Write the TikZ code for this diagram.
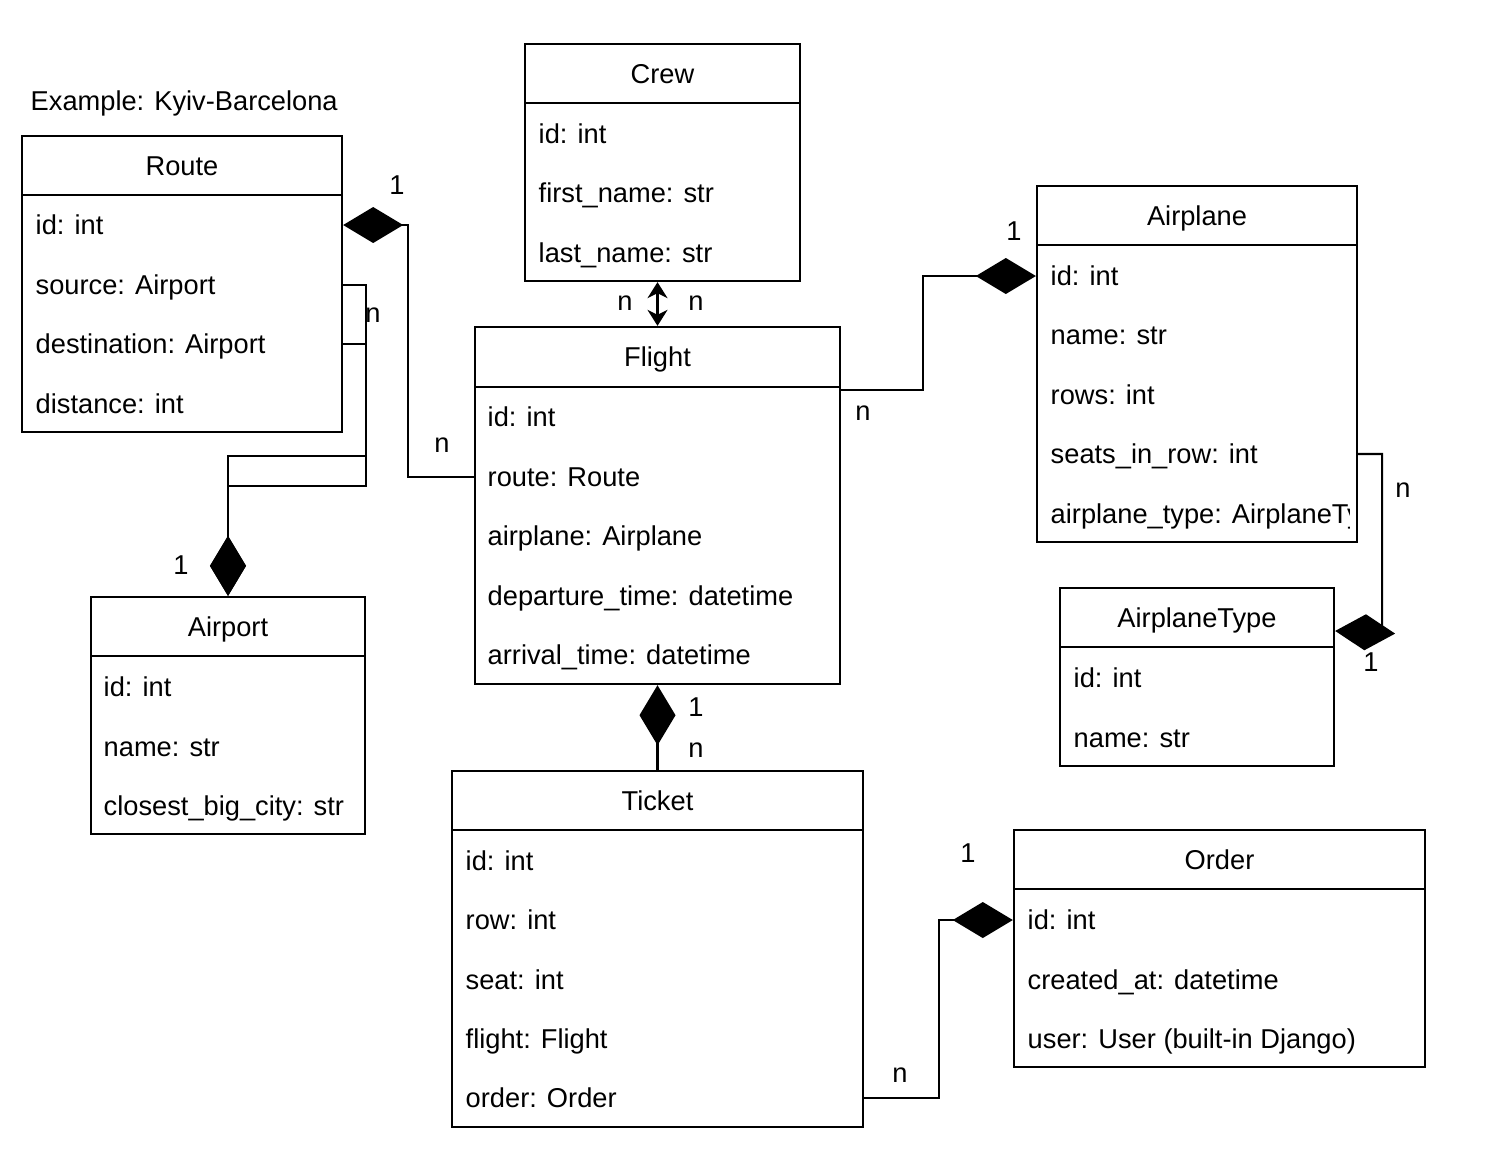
\documentclass[tikz,border=0pt]{standalone}
\usepackage{fontspec}
\setmainfont{Liberation Sans}
\usetikzlibrary{arrows.meta}

\tikzset{
  box/.style={draw, line width=0.6pt, inner sep=0pt},
  head/.style={draw, line width=0.6pt, inner sep=0pt, minimum height=0.59cm, text height=0.195cm, text depth=0pt},
  field/.style={anchor=west, inner sep=0pt, text height=0.195cm, text depth=0pt},
  lbl/.style={inner sep=0pt, text height=0.195cm, text depth=0pt},
  link/.style={line width=0.6pt},
  comp/.style={link, -{Diamond[length=0.6cm,width=0.36cm]}},
  both/.style={link, {Stealth[length=0.16cm,width=0.2cm,inset=0.05cm]}-{Stealth[length=0.16cm,width=0.2cm,inset=0.05cm]}}
}

\begin{document}
\begin{tikzpicture}[x=0.01cm, y=-0.01cm, font=\fontsize{7.75pt}{9pt}\selectfont]
\useasboundingbox (0,0) rectangle (1486,1150);

\node[field] (example) at (30,101) {Example: Kyiv-Barcelona};

% Route
\node[box, minimum width=3.2cm, minimum height=2.96cm] (route) at (182,284) {};
\node[head, minimum width=3.2cm, anchor=north] (routehead) at (route.north) {Route};
\node[field] (routeid) at (35,225) {id: int};
\node[field] (routesrc) at (35,285) {source: Airport};
\node[field] (routedst) at (35,344) {destination: Airport};
\node[field] (routedist) at (35,404) {distance: int};

% Crew
\node[box, minimum width=2.75cm, minimum height=2.37cm] (crew) at (662.5,162.5) {};
\node[head, minimum width=2.75cm, anchor=north] (crewhead) at (crew.north) {Crew};
\node[field] (crewid) at (538,134) {id: int};
\node[field] (crewfirst) at (538,193) {first\_name: str};
\node[field] (crewlast) at (538,253) {last\_name: str};

% Flight
\node[box, minimum width=3.65cm, minimum height=3.57cm] (flight) at (657.5,505.5) {};
\node[head, minimum width=3.65cm, minimum height=0.6cm, anchor=north] (flighthead) at (flight.north) {Flight};
\node[field] (flightid) at (487,417) {id: int};
\node[field] (flightroute) at (487,477) {route: Route};
\node[field] (flightplane) at (487,536) {airplane: Airplane};
\node[field] (flightdep) at (487,596) {departure\_time: datetime};
\node[field] (flightarr) at (487,655) {arrival\_time: datetime};

% Airplane
\node[box, minimum width=3.2cm, minimum height=3.56cm] (airplane) at (1197,364) {};
\node[head, minimum width=3.2cm, anchor=north] (airplanehead) at (airplane.north) {Airplane};
\node[field] (airplaneid) at (1050,276) {id: int};
\node[field] (airplanename) at (1050,335) {name: str};
\node[field] (airplanerows) at (1050,395) {rows: int};
\node[field] (airplaneseats) at (1050,454) {seats\_in\_row: int};
\begin{scope}
\clip (1040,490) rectangle (1349,545);
\node[field] (airplanetypef) at (1050,514) {airplane\_type: AirplaneType};
\end{scope}

% AirplaneType
\node[box, minimum width=2.74cm, minimum height=1.78cm] (airplanetype) at (1197,677) {};
\node[head, minimum width=2.74cm, anchor=north] (airplanetypehead) at (airplanetype.north) {AirplaneType};
\node[field] (airplanetypeid) at (1073,678) {id: int};
\node[field] (airplanetypename) at (1073,738) {name: str};

% Airport
\node[box, minimum width=2.74cm, minimum height=2.37cm] (airport) at (228,715.5) {};
\node[head, minimum width=2.74cm, anchor=north] (airporthead) at (airport.north) {Airport};
\node[field] (airportid) at (103,687) {id: int};
\node[field] (airportname) at (103,747) {name: str};
\node[field] (airportcity) at (103,806) {closest\_big\_city: str};

% Ticket
\node[box, minimum width=4.11cm, minimum height=3.56cm] (ticket) at (657.5,949) {};
\node[head, minimum width=4.11cm, anchor=north] (tickethead) at (ticket.north) {Ticket};
\node[field] (ticketid) at (465,861) {id: int};
\node[field] (ticketrow) at (465,920) {row: int};
\node[field] (ticketseat) at (465,980) {seat: int};
\node[field] (ticketflight) at (465,1039) {flight: Flight};
\node[field] (ticketorder) at (465,1098) {order: Order};

% Order
\node[box, minimum width=4.11cm, minimum height=2.37cm] (order) at (1219.5,948.5) {};
\node[head, minimum width=4.11cm, anchor=north] (orderhead) at (order.north) {Order};
\node[field] (orderid) at (1027,920) {id: int};
\node[field] (ordercreated) at (1027,980) {created\_at: datetime};
\node[field] (orderuser) at (1027,1039) {user: User (built-in Django)};

% connectors
\draw[comp] (flight.west |- flightroute) -- ++(-66,0) |- (route.east |- routeid);
\draw[comp] (route.east |- routesrc) -- ++(23,0) -- ++(0,201) -| (airport.north);
\draw[comp] (route.east |- routedst) -- ++(23,0) -- ++(0,112) -| (airport.north);
\draw[both] (flight.north) -- (flight.north |- crew.south);
\draw[comp] ([yshift=-0.64cm]flight.north east) -- ++(82,0) |- (airplane.west |- airplaneid);
\draw[comp] (airplane.east |- airplaneseats) -- ++(24,0) -- ++(0,179) -- ([yshift=-0.44cm]airplanetype.north east);
\draw[comp] (ticket.north) -- (flight.south);
\draw[comp] (ticket.east |- ticketorder) -- ++(75,0) |- (order.west |- orderid);

% multiplicities
\node[lbl] (m1) at (397,185) {1};
\node[lbl] (m2) at (442,443) {n};
\node[lbl] (m3) at (373,313) {n};
\node[lbl] (m4) at (181,565) {1};
\node[lbl] (m5) at (625,301) {n};
\node[lbl] (m6) at (696,301) {n};
\node[lbl] (m7) at (1014,231) {1};
\node[lbl] (m8) at (863,411) {n};
\node[lbl] (m9) at (1403,488) {n};
\node[lbl] (m10) at (1371,662) {1};
\node[lbl] (m11) at (696,707) {1};
\node[lbl] (m12) at (696,748) {n};
\node[lbl] (m13) at (968,853) {1};
\node[lbl] (m14) at (900,1073) {n};
\end{tikzpicture}
\end{document}
